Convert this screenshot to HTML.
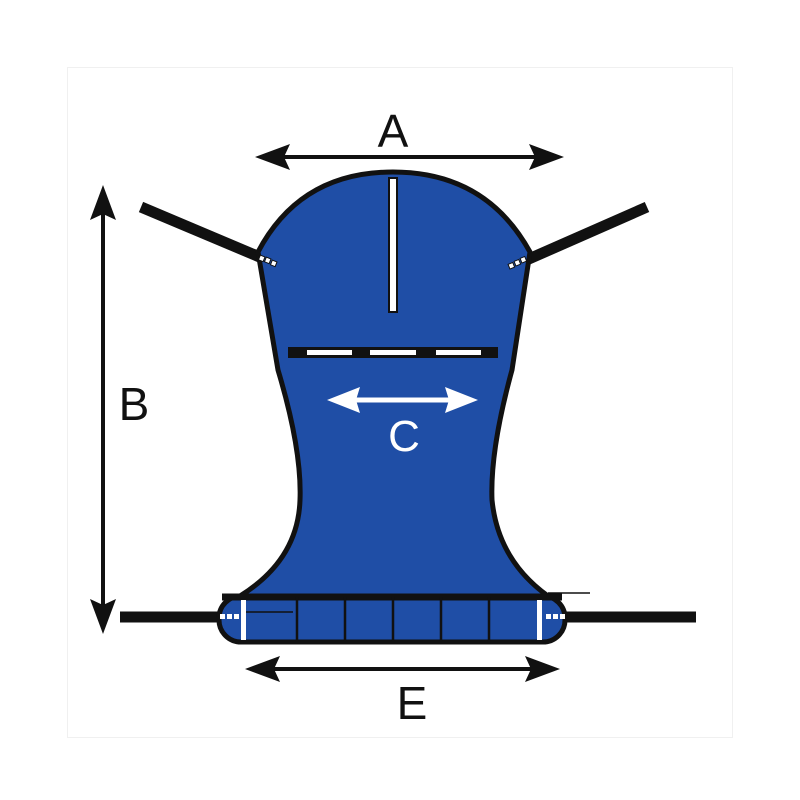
<!DOCTYPE html>
<html><head><meta charset="utf-8"><style>
html,body{margin:0;padding:0;background:#fff}
svg{display:block}
text{font-family:"Liberation Sans",sans-serif}
</style></head><body>
<svg width="800" height="800" viewBox="0 0 800 800" xmlns="http://www.w3.org/2000/svg">
<rect x="67.5" y="67.5" width="665" height="670" fill="none" stroke="#f0f0f0" stroke-width="1"/>
<!-- straps -->
<line x1="141" y1="207" x2="262" y2="258" stroke="#111" stroke-width="11"/>
<line x1="647" y1="207" x2="522" y2="262" stroke="#111" stroke-width="11"/>
<line x1="120" y1="617" x2="232" y2="617" stroke="#111" stroke-width="11"/>
<line x1="555" y1="617" x2="696" y2="617" stroke="#111" stroke-width="11"/>
<!-- body -->
<path d="M258,252 Q300,172 393,172 Q486,172 530,252 L512,370 Q490,450 492,500 Q498,560 548,596 L240,596 Q298,560 300,500 Q302,450 278,370 Z" fill="#1f4ea6" stroke="#111" stroke-width="5" stroke-linejoin="round"/>
<!-- bottom band -->
<rect x="219" y="596" width="346" height="46" rx="22" fill="#1f4ea6" stroke="#111" stroke-width="5"/>
<line x1="222" y1="597" x2="562" y2="597" stroke="#111" stroke-width="7"/>
<g stroke="#111" stroke-width="2.5">
<line x1="297" y1="597" x2="297" y2="641"/>
<line x1="345" y1="597" x2="345" y2="641"/>
<line x1="393" y1="597" x2="393" y2="641"/>
<line x1="441" y1="597" x2="441" y2="641"/>
<line x1="489" y1="597" x2="489" y2="641"/>
<line x1="246" y1="612" x2="293" y2="612" stroke-width="1.5"/>
<line x1="548" y1="593" x2="590" y2="593" stroke-width="1.5"/>
</g>
<rect x="241" y="600" width="5" height="40" fill="#fff"/>
<rect x="537" y="600" width="5" height="40" fill="#fff"/>
<g fill="#fff">
<rect x="220" y="614" width="5" height="5"/><rect x="227" y="614" width="5" height="5"/><rect x="234" y="614" width="5" height="5"/>
<rect x="546" y="614" width="5" height="5"/><rect x="553" y="614" width="5" height="5"/><rect x="560" y="614" width="5" height="5"/>
</g>
<g fill="#fff" stroke="#111" stroke-width="1">
<rect x="259" y="256" width="5" height="5" transform="rotate(22 262 259)"/>
<rect x="265" y="258" width="5" height="5" transform="rotate(22 268 261)"/>
<rect x="271" y="261" width="5" height="5" transform="rotate(22 274 264)"/>
<rect x="509" y="263" width="5" height="5" transform="rotate(-22 512 266)"/>
<rect x="515" y="260" width="5" height="5" transform="rotate(-22 518 263)"/>
<rect x="521" y="257" width="5" height="5" transform="rotate(-22 524 260)"/>
</g>
<!-- vertical slot -->
<rect x="389" y="178" width="8" height="134" fill="#fff" stroke="#111" stroke-width="2"/>
<!-- dashed bar -->
<rect x="288" y="347" width="210" height="11" fill="#111"/>
<rect x="307" y="350" width="45" height="5" fill="#fff"/>
<rect x="370" y="350" width="46" height="5" fill="#fff"/>
<rect x="436" y="350" width="45" height="5" fill="#fff"/>
<!-- arrow A -->
<line x1="280" y1="157" x2="540" y2="157" stroke="#111" stroke-width="4"/>
<polygon points="255,157 290,144 284,157 290,170" fill="#111"/>
<polygon points="564,157 529,144 535,157 529,170" fill="#111"/>
<!-- arrow B -->
<line x1="103" y1="210" x2="103" y2="610" stroke="#111" stroke-width="4"/>
<polygon points="103,185 90,220 103,214 116,220" fill="#111"/>
<polygon points="103,634 90,599 103,605 116,599" fill="#111"/>
<!-- arrow E -->
<line x1="270" y1="669" x2="535" y2="669" stroke="#111" stroke-width="4"/>
<polygon points="245,669 280,656 274,669 280,682" fill="#111"/>
<polygon points="560,669 525,656 531,669 525,682" fill="#111"/>
<!-- arrow C -->
<line x1="345" y1="400" x2="460" y2="400" stroke="#fff" stroke-width="5"/>
<polygon points="327,400 360,387 356,400 360,413" fill="#fff"/>
<polygon points="478,400 445,387 449,400 445,413" fill="#fff"/>
<!-- labels -->
<text x="393" y="147" font-size="46" text-anchor="middle" fill="#111">A</text>
<text x="134" y="420" font-size="46" text-anchor="middle" fill="#111">B</text>
<text x="404" y="451" font-size="44" text-anchor="middle" fill="#fff">C</text>
<text x="412" y="719" font-size="46" text-anchor="middle" fill="#111">E</text>
</svg>
</body></html>
